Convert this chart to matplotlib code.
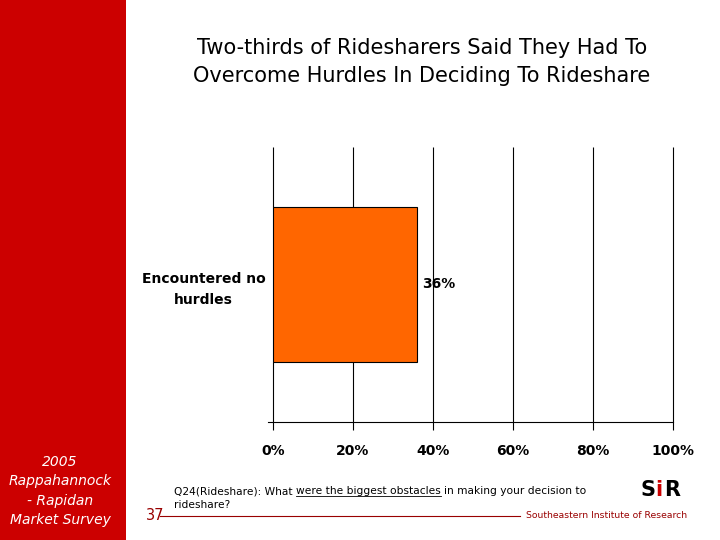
import matplotlib
matplotlib.use("Agg")
import matplotlib.pyplot as plt
from matplotlib.patches import Rectangle
from matplotlib.lines import Line2D

categories = ["Encountered no\nhurdles"]
values = [36]
xticks = [0, 20, 40, 60, 80, 100]
xtick_labels = ["0%", "20%", "40%", "60%", "80%", "100%"]

title = "Two-thirds of Ridesharers Said They Had To\nOvercome Hurdles In Deciding To Rideshare"
side_text = "2005\nRappahannock\n- Rapidan\nMarket Survey"
page_no = "37"

fig = plt.figure(figsize=(7.2, 5.4), dpi=100)
fig.patch.set_facecolor("white")

# red side panel
fig.patches.append(Rectangle((0, 0), 126 / 720, 1, transform=fig.transFigure,
                             facecolor="#CC0000", edgecolor="none", zorder=0))
fig.text(60 / 720, 1 - 491 / 540, side_text, color="white", fontsize=10,
         style="italic", ha="center", va="center", linespacing=1.5)

fig.text(422 / 720, 1 - 62 / 540, title, fontsize=15, ha="center", va="center",
         linespacing=1.5)

ax = fig.add_axes([273 / 720, 1 - 422 / 540, 400 / 720, 275 / 540])
ax.barh([0], values, height=0.56, color="#FF6600", edgecolor="black",
        linewidth=0.8, zorder=3)
ax.set_xlim(0, 100)
ax.set_ylim(-0.5, 0.5)
ax.set_xticks(xticks)
ax.set_xticklabels(xtick_labels, fontsize=10, fontweight="bold")
ax.set_yticks([0])
ax.set_yticklabels(categories, fontsize=10, fontweight="bold", ha="center",
                   linespacing=1.6)
ax.tick_params(axis="y", length=0, pad=50)
ax.tick_params(axis="x", length=6, width=0.8, pad=10, direction="out")
ax.vlines(xticks, -0.5, 0.5, color="black", linewidth=0.8, zorder=1,
          clip_on=False)
for s in ["top", "right", "left"]:
    ax.spines[s].set_visible(False)
ax.spines["bottom"].set_linewidth(0.8)
ax.spines["bottom"].set_bounds(-1.2, 100)
for i, v in enumerate(values):
    ax.text(v + 1.3, i, "%d%%" % v, fontsize=10, fontweight="bold",
            va="center", ha="left", zorder=4)

# footer
fig.text(146 / 720, 1 - 516 / 540, page_no, color="#990000", fontsize=10.5,
         va="center")
fig.add_artist(Line2D([160 / 720, 520 / 720], [1 - 516 / 540, 1 - 516 / 540],
                      transform=fig.transFigure, color="#990000", linewidth=0.8))
fig.text(526 / 720, 1 - 516 / 540, "Southeastern Institute of Research",
         color="#990000", fontsize=6.7, va="center")

fig.canvas.draw()
renderer = fig.canvas.get_renderer()


def text_width(s, size):
    t = fig.text(0, 0, s, fontsize=size)
    w = t.get_window_extent(renderer).width / fig.bbox.width
    t.remove()
    return w


fs = 7.7
space = text_width("x x", fs) - text_width("xx", fs)
x0 = 174 / 720
y0 = 1 - 494 / 540
pieces = [("Q24(Rideshare): What", False), ("were the biggest obstacles", True),
          ("in making your decision to", False)]
x = x0
for txt, under in pieces:
    t = fig.text(x, y0, txt, fontsize=fs, va="baseline")
    w = t.get_window_extent(renderer).width / fig.bbox.width
    if under:
        fig.add_artist(Line2D([x, x + w], [y0 - 2 / 540, y0 - 2 / 540],
                              transform=fig.transFigure, color="black", linewidth=0.6))
    x += w + space
fig.text(x0, 1 - 508 / 540, "rideshare?", fontsize=fs, va="baseline")

# logo
fig.text(641 / 720, 1 - 490 / 540, "S", fontsize=15, fontweight="heavy",
         va="center", ha="left")
fig.text(655 / 720, 1 - 490 / 540, "i", fontsize=15, fontweight="heavy",
         color="#CC0000", va="center", ha="left")
fig.text(664 / 720, 1 - 490 / 540, "R", fontsize=15, fontweight="heavy",
         va="center", ha="left")

fig.savefig("out.png", dpi=100)
